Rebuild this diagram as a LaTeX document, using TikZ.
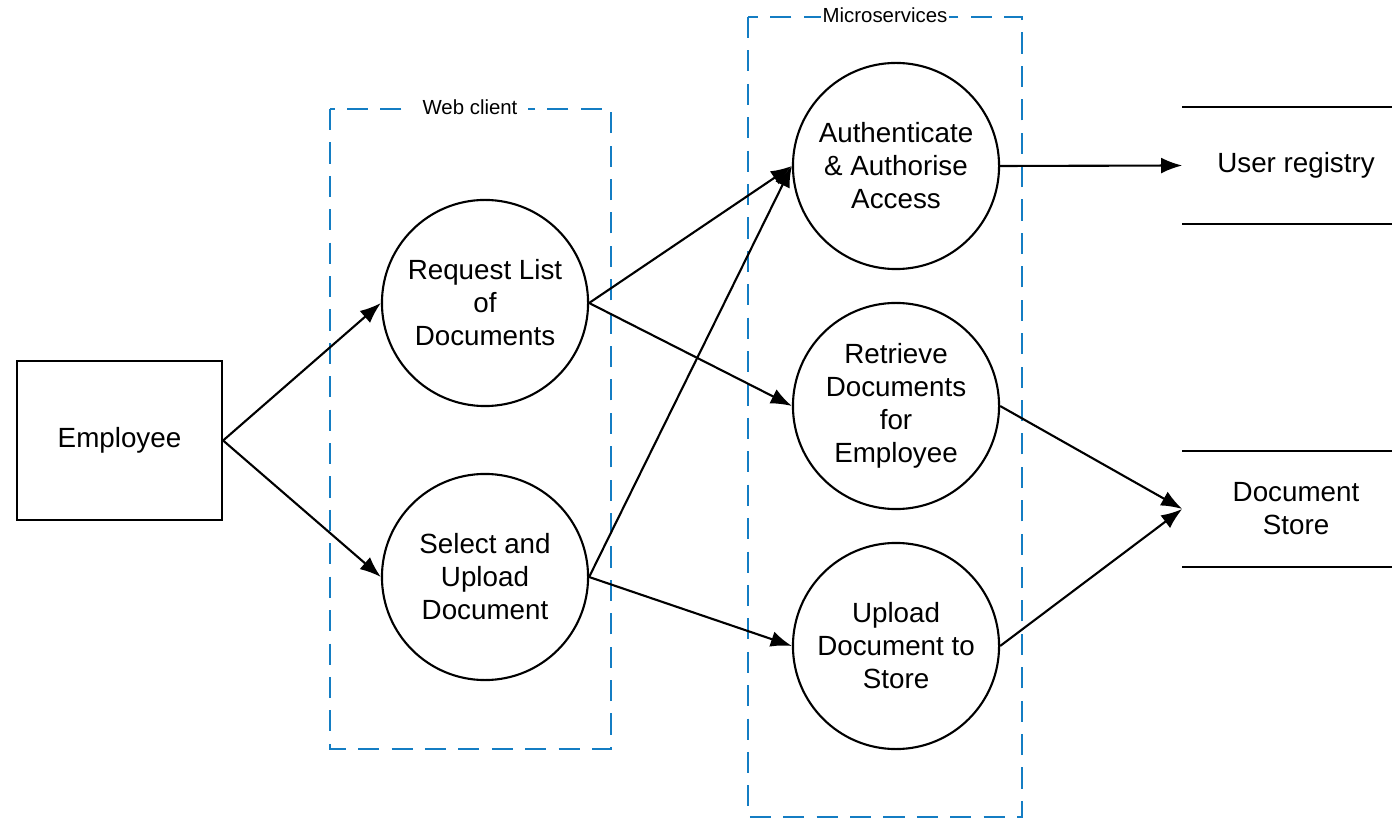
\documentclass[tikz,border=0pt]{standalone}
\usepackage{fontspec}
\setmainfont{Liberation Sans}
\usetikzlibrary{arrows.meta}
\definecolor{groupblue}{RGB}{20,125,195}
\tikzset{
  proc/.style={circle,draw,line width=0.6pt,minimum size=2.06cm,inner sep=0pt,
    align=center,font=\fontsize{7.9}{9.4}\selectfont},
  actor/.style={rectangle,draw,line width=0.6pt,minimum width=2.05cm,minimum height=1.59cm,
    font=\fontsize{7.9}{9.4}\selectfont},
  store/.style={rectangle,minimum width=2.26cm,minimum height=1.15cm,inner sep=0pt,
    align=center,font=\fontsize{7.9}{9.4}\selectfont},
  group/.style={draw=groupblue,line width=0.6pt,dash pattern=on 6pt off 3.5pt},
  grouplabel/.style={fill=white,inner sep=1pt,font=\fontsize{5.8}{6}\selectfont},
  flow/.style={line width=0.6pt,-{Latex[length=6pt,width=4.5pt]}}
}
\begin{document}
\begin{tikzpicture}[x=0.01cm,y=-0.01cm]
  \useasboundingbox (0,0) rectangle (1392,819);
  % groups
  \draw[group] (330,109) rectangle (611,749);
  \node[grouplabel,inner sep=3pt] (weblbl) at (470,107) {Web client};
  \draw[group] (748,17) rectangle (1022,817);
  \node[grouplabel,inner sep=0.5pt] (mslbl) at (885,15) {Microservices};
  % nodes
  \node[actor] (employee) at (119.5,440.5) {Employee};
  \node[proc] (reqlist) at (485,303) {Request List\\of\\Documents};
  \node[proc] (upload) at (485,577) {Select and\\Upload\\Document};
  \node[proc] (auth) at (896,166) {Authenticate\\\& Authorise\\Access};
  \node[proc] (retrieve) at (896,406) {Retrieve\\Documents\\for\\Employee};
  \node[proc] (tostore) at (896,646) {Upload\\Document to\\Store};
  \node[store] (registry) at (1296,165.5) {User registry};
  \node[store] (docstore) at (1296,509) {Document\\Store};
  \foreach \s in {registry,docstore}{
    \draw[line width=0.6pt] (\s.north west) -- (\s.north east)
      (\s.south west) -- (\s.south east);
  }
  % flows
  \draw[flow] (employee.east) -- (reqlist.west);
  \draw[flow] (employee.east) -- (upload.west);
  \draw[flow] (reqlist.east) -- (auth.west);
  \draw[flow] (reqlist.east) -- (retrieve.west);
  \draw[flow] (upload.east) -- (auth.west);
  \draw[flow] (upload.east) -- (tostore.west);
  \draw[flow] (auth.east) -- (registry.west);
  \draw[flow] (retrieve.east) -- (docstore.west);
  \draw[flow] (tostore.east) -- (docstore.west);
\end{tikzpicture}
\end{document}
